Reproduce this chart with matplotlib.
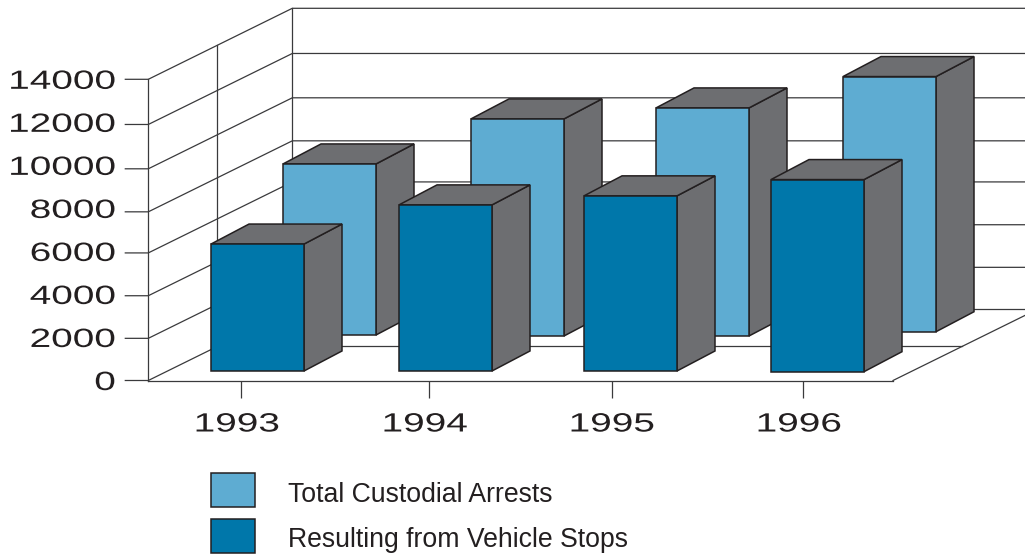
import matplotlib
matplotlib.use('Agg')
import matplotlib.pyplot as plt
from matplotlib.patches import Polygon, Patch
from matplotlib.patheffects import AbstractPathEffect
from matplotlib.transforms import Affine2D

YEARS = ['1993', '1994', '1995', '1996']
TOTAL_ARRESTS = [7950, 10090, 10600, 11860]
VEHICLE_STOPS = [5900, 7720, 8140, 8930]
Y_TICKS = [0, 2000, 4000, 6000, 8000, 10000, 12000, 14000]

LABELS = ['Total Custodial Arrests', 'Resulting from Vehicle Stops']

LIGHT = '#5eacd2'
DARK = '#0077aa'
GREY = '#6d6e71'
INK = '#231f20'
LINE = '#3a3a3c'

W, H = 1025, 555
LEFT, BOTTOM, TOP = 148.3, 380.5, 79.3

# oblique projection of the floor, x in pixels and y in value units
UNITS_PER_PX = 14000 / (BOTTOM - TOP)
DEPTH_X = 144
DEPTH_Y = 71 * UNITS_PER_PX
FLOOR_RIGHT = 893
MID_DEPTH = 0.48

# the ruled lines sit a little off the even label spacing
RULE_LEVELS = [0, 1960, 3940, 5930, 7840, 9840, 11900, 14000]
STUB = 23

# bar placement on the floor
BAR_WIDTH = 93
BAR_DX = 38
BAR_DY = 20 * UNITS_PER_PX
LIGHT_X = [283, 471, 656, 843]
LIGHT_BASE = [0.641, 0.627, 0.627, 0.687]
DARK_X = [211, 399, 584, 771]
DARK_BASE = [0.134, 0.134, 0.134, 0.124]
TICK_X = [241, 429, 612, 803]
YEAR_LABEL_X = [237, 425, 612, 799]


class WideText(AbstractPathEffect):
    # stretches glyphs sideways, the labels here are set in an extended face
    def __init__(self, factor, anchor='center'):
        super().__init__()
        self.factor = factor
        self.anchor = anchor

    def draw_path(self, renderer, gc, tpath, affine, rgbFace=None):
        box = tpath.transformed(affine).get_extents()
        cx = box.x1 if self.anchor == 'right' else (box.x0 + box.x1) / 2
        wide = affine + Affine2D().translate(-cx, 0).scale(self.factor, 1).translate(cx, 0)
        renderer.draw_path(gc, tpath, wide, rgbFace)


def project(x, value, depth):
    return x + depth * DEPTH_X, value + depth * DEPTH_Y


def draw_bar(ax, x, depth, value, color):
    base = depth * DEPTH_Y
    corners = [(x, base), (x + BAR_WIDTH, base), (x + BAR_WIDTH, base + value), (x, base + value)]
    a, b, c, d = corners
    back = [(px + BAR_DX, py + BAR_DY) for px, py in corners]
    style = dict(edgecolor=INK, linewidth=1.1, joinstyle='miter', clip_on=False)
    ax.add_patch(Polygon([b, back[1], back[2], c], facecolor=GREY, **style))
    ax.add_patch(Polygon([d, c, back[2], back[3]], facecolor=GREY, **style))
    ax.add_patch(Polygon(corners, facecolor=color, **style))


plt.rcParams['font.family'] = ['Liberation Sans', 'DejaVu Sans']

fig = plt.figure(figsize=(W / 100, H / 100), dpi=100)
ax = fig.add_axes([LEFT / W, (H - BOTTOM) / H, (W - LEFT) / W, (BOTTOM - TOP) / H])
ax.patch.set_visible(False)
ax.set_xlim(LEFT, W)
ax.set_ylim(0, 14000)

for side in ['top', 'right']:
    ax.spines[side].set_visible(False)
for side in ['left', 'bottom']:
    ax.spines[side].set_color(LINE)
    ax.spines[side].set_linewidth(0.9)
ax.spines['bottom'].set_bounds(LEFT, FLOOR_RIGHT)

# walls and floor
line = dict(color=LINE, linewidth=0.9, clip_on=False, zorder=0.5)
for v in RULE_LEVELS:
    bx, by = project(LEFT, v, 1)
    ax.plot([LEFT - STUB, LEFT, bx, W], [v, v, by, by], **line)
top_x, top_y = project(LEFT, 14000, 1)
ax.plot([top_x, top_x], [DEPTH_Y, top_y], **line)
mx, my = project(LEFT, 0, MID_DEPTH)
ax.plot([mx, mx], [my, 14000 + my], **line)
ax.plot([mx, project(FLOOR_RIGHT, 0, MID_DEPTH)[0]], [my, my], **line)
ax.plot([FLOOR_RIGHT, FLOOR_RIGHT + DEPTH_X], [0, DEPTH_Y], **line)

for x, depth, value in zip(LIGHT_X, LIGHT_BASE, TOTAL_ARRESTS):
    draw_bar(ax, x, depth, value, LIGHT)
for x, depth, value in zip(DARK_X, DARK_BASE, VEHICLE_STOPS):
    draw_bar(ax, x, depth, value, DARK)

ax.set_yticks(Y_TICKS)
ax.set_xticks(TICK_X)
ax.set_xticklabels([])
ax.tick_params(axis='y', length=0, pad=33 * 0.72, labelsize=19, labelcolor=INK)
ax.tick_params(axis='x', length=17 * 0.72, width=0.9, color=LINE)
for label in ax.get_yticklabels():
    label.set_path_effects([WideText(1.47, 'right')])

for x, year in zip(YEAR_LABEL_X, YEARS):
    ax.annotate(year, (x, 0), xytext=(0, -44), textcoords='offset pixels', ha='center', va='center',
                fontsize=19, color=INK, path_effects=[WideText(1.47)], annotation_clip=False)

handles = [Patch(facecolor=LIGHT, edgecolor=INK, linewidth=1.1, label=LABELS[0]),
           Patch(facecolor=DARK, edgecolor=INK, linewidth=1.1, label=LABELS[1])]
legend = fig.legend(handles=handles, loc='upper left', bbox_to_anchor=(211 / W, 1 - 473 / H),
                    frameon=False, fontsize=19.2, borderpad=0, borderaxespad=0,
                    handlelength=1.65, handleheight=1.58, handletextpad=1.25, labelspacing=0.44,
                    labelcolor=INK)
for t in legend.get_texts():
    t.set_y(-3)

fig.savefig('out.png', dpi=100)
